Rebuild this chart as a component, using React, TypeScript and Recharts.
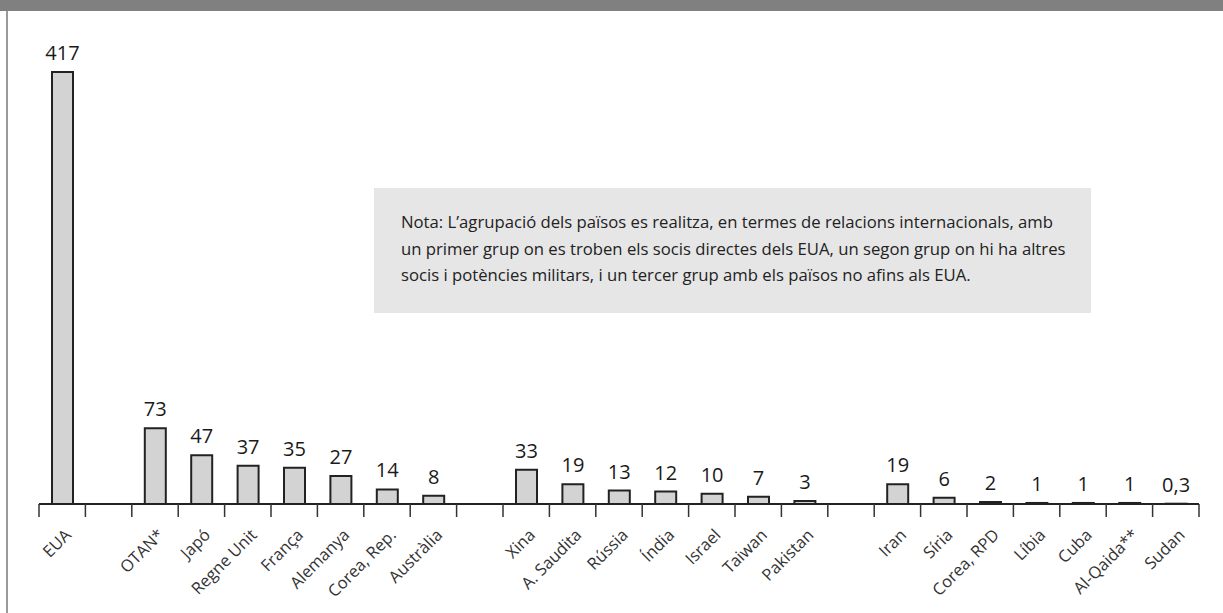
import { BarChart, Bar, XAxis, YAxis, LabelList } from "recharts";

// Despesa militar (milers de milions de dòlars); els buits separen els tres grups
const countries = [
  "EUA", "", "OTAN*", "Japó", "Regne Unit", "França", "Alemanya", "Corea, Rep.", "Austràlia",
  "", "Xina", "A. Saudita", "Rússia", "Índia", "Israel", "Taiwan", "Pakistan",
  "", "Iran", "Síria", "Corea, RPD", "Líbia", "Cuba", "Al-Qaida**", "Sudan",
];
const spending: (number | null)[] = [
  417, null, 73, 47, 37, 35, 27, 14, 8,
  null, 33, 19, 13, 12, 10, 7, 3,
  null, 19, 6, 2, 1, 1, 1, 0.3,
];
const noteLines = [
  "Nota: L’agrupació dels països es realitza, en termes de relacions internacionals, amb",
  "un primer grup on es troben els socis directes dels EUA, un segon grup on hi ha altres",
  "socis i potències militars, i un tercer grup amb els països no afins als EUA.",
];

const data = countries.map((name, i) => ({ name, value: spending[i] }));

const FONT = "'Open Sans', 'Noto Sans', sans-serif";
const W = 1223;
const H = 613;
const LEFT = 39;
const RIGHT = 24;
const BAND = (W - LEFT - RIGHT) / countries.length;

function CountryTick(props: any) {
  const { x, y, payload, index } = props;
  const axisY = y - 8;
  const left = x - BAND / 2;
  const last = index === countries.length - 1;
  const px = x + 10;
  const py = axisY + 32;
  return (
    <g>
      <line x1={left} y1={axisY} x2={left} y2={axisY + 13} stroke="#333" strokeWidth={1.5} />
      {last && <line x1={left + BAND} y1={axisY} x2={left + BAND} y2={axisY + 13} stroke="#333" strokeWidth={1.5} />}
      <text
        x={px}
        y={py}
        textAnchor="end"
        transform={`rotate(-45, ${px}, ${py})`}
        fontSize={16.5}
        fill="#333"
        fontFamily={FONT}
      >
        {payload.value}
      </text>
    </g>
  );
}

export default function App() {
  return (
    <div style={{ position: "relative", width: W, height: H, background: "#fff", overflow: "hidden" }}>
      <style>{`body{margin:0}`}</style>
      <div style={{ position: "absolute", left: 0, top: 0, width: W, height: 11, background: "#808080" }} />
      <div style={{ position: "absolute", left: 6, top: 11, width: 2, height: H - 11, background: "#9a9a9a" }} />
      <BarChart
        width={W}
        height={H}
        data={data}
        margin={{ top: 72, right: RIGHT, bottom: 9, left: LEFT }}
        barCategoryGap={0}
      >
        <XAxis
          dataKey="name"
          height={100}
          interval={0}
          axisLine={{ stroke: "#222", strokeWidth: 2 }}
          tickLine={false}
          tick={<CountryTick />}
        />
        <YAxis hide domain={[0, 417]} />
        <Bar dataKey="value" barSize={21} fill="#d3d3d3" stroke="#222" strokeWidth={2} isAnimationActive={false}>
          <LabelList
            dataKey="value"
            position="top"
            offset={12}
            fontSize={20}
            fill="#1a1a1a"
            fontFamily={FONT}
            formatter={(v: any) => (v == null ? "" : String(v).replace(".", ","))}
          />
        </Bar>
      </BarChart>
      <div
        style={{
          position: "absolute",
          left: 374,
          top: 188,
          width: 717,
          height: 125,
          background: "#e6e6e6",
          boxSizing: "border-box",
          padding: "21px 0 0 27px",
          fontFamily: FONT,
          fontSize: 16.7,
          lineHeight: "26.5px",
          color: "#222",
          whiteSpace: "nowrap",
        }}
      >
        {noteLines.map((l, i) => (
          <div key={i}>{l}</div>
        ))}
      </div>
    </div>
  );
}
